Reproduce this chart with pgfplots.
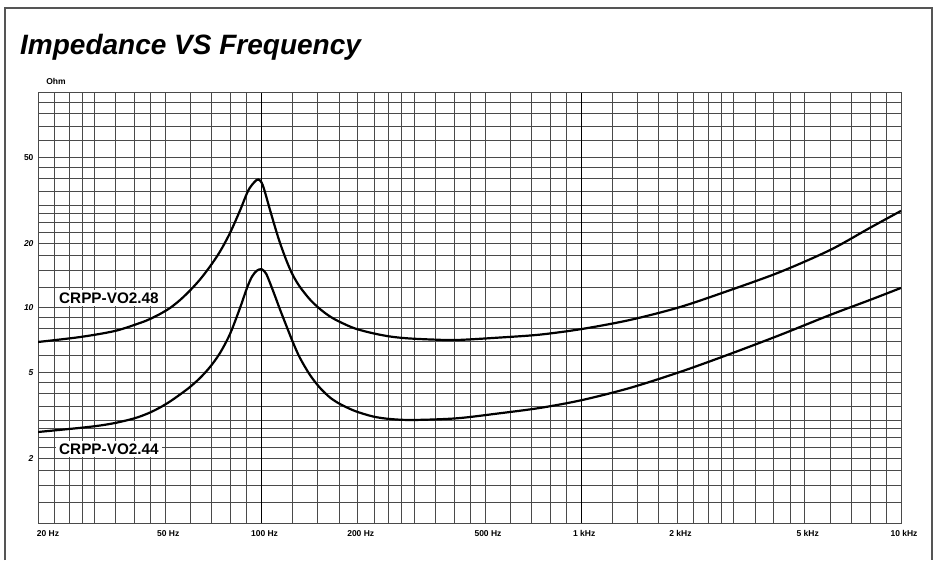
\documentclass[border=0pt]{standalone}
\usepackage{fontspec}
\setmainfont{Liberation Sans}
\usepackage{pgfplots}
\usepackage{pgfplotstable}
\pgfplotsset{compat=1.18}
\definecolor{gridc}{HTML}{4A4A4A}
\definecolor{framec}{HTML}{555555}
\pgfplotstableread{
f z
20 6.95
27.1 7.33
34.8 7.82
41.69 8.52
44.81 8.89
48.15 9.38
51.74 10.0
55.61 10.89
59.75 12.06
64.22 13.57
69.02 15.60
74.18 18.31
79.71 22.33
85.65 28.41
90.74 35.02
94.74 38.35
97.73 39.61
100.86 37.34
106.33 28.56
110.21 23.81
114.25 20.06
120.16 16.37
125.47 14.17
131.96 12.52
141.78 10.95
152.39 9.89
163.78 9.13
176.01 8.61
196.08 8.03
223.2 7.63
252.3 7.37
285.1 7.23
336.5 7.14
408.6 7.10
557.2 7.29
743 7.52
1005 7.99
1421 8.80
2036 10.1
2918 12.1
4184 14.7
5998 18.6
7998 23.6
10000 28.3
}\dataA
\pgfplotstableread{
f z
20 2.65
27.1 2.77
31.26 2.841
34.8 2.918
38.8 3.029
41.69 3.129
44.81 3.266
48.15 3.445
51.74 3.674
55.61 3.960
59.75 4.292
64.22 4.725
69.02 5.316
74.18 6.176
79.71 7.571
85.65 10.0
90.06 12.39
93.40 14.01
96.84 14.94
100.17 15.14
103.3 14.47
106.33 13.07
110.21 11.37
114.25 9.84
120.16 8.12
125.47 6.91
131.96 5.85
141.78 4.88
152.39 4.25
163.78 3.834
176.01 3.577
196.08 3.318
223.2 3.129
252.3 3.046
297.8 3.014
408.6 3.069
557 3.24
743 3.43
1005 3.73
1421 4.25
2036 5.04
2918 6.11
4184 7.49
5998 9.28
7998 10.9
10000 12.4
}\dataB
\begin{document}
\begin{tikzpicture}[x=1pt,y=1pt]
\useasboundingbox (0,0) rectangle (937,560);
\draw[line width=1.3pt, color=framec] (5,0) -- (5,552) -- (932,552) -- (932,0);
\node[anchor=base west, font=\fontsize{28}{30}\selectfont\bfseries\itshape, inner sep=0pt] at (20,505) {Impedance VS Frequency};
\begin{axis}[
  at={(38pt,37pt)}, anchor=south west,
  scale only axis, width=863pt, height=430pt,
  xmode=log, ymode=log,
  xmin=20, xmax=10000, ymin=1, ymax=100,
  xtick={20,50,100,200,500,1000,2000,5000,10000},
  xticklabels={\hspace*{14pt}20 Hz, 50 Hz, 100 Hz, 200 Hz, 500 Hz, 1 kHz, 2 kHz, 5 kHz, 10 kHz},
  ytick={2,5,10,20,50},
  yticklabels={\textit{2},\textit{5},\textit{10},\textit{20},50},
  minor xtick={22.5,25,27.5,30,35,40,45,60,70,80,90,125,150,175,225,250,275,300,350,400,450,600,700,800,900,1250,1500,1750,2250,2500,2750,3000,3500,4000,4500,6000,7000,8000,9000},
  minor ytick={1.25,1.5,1.75,2.25,2.5,2.75,3,3.5,4,4.5,6,7,8,9,10,12.5,15,17.5,22.5,25,27.5,30,35,40,45,60,70,80,90},
  grid=both,
  major grid style={gridc, line width=1pt},
  minor grid style={gridc, line width=1pt},
  major tick length=0pt, minor tick length=0pt,
  axis line style={gridc, line width=1pt},
  tick label style={font=\fontsize{8.5}{10}\selectfont\bfseries},
  xticklabel style={yshift=-4pt, xshift=3pt},
  yticklabel style={xshift=-1pt},
]
\addplot[black, line width=1.3pt] coordinates {(100,1) (100,100)};
\addplot[black, line width=1.3pt] coordinates {(1000,1) (1000,100)};
\addplot[black, line width=2.2pt, smooth, tension=0.5] table[x=f, y=z] {\dataA};
\addplot[black, line width=2.2pt, smooth, tension=0.5] table[x=f, y=z] {\dataB};
\end{axis}
\node[font=\fontsize{8.5}{10}\selectfont\bfseries, inner sep=0pt] at (56,479) {Ohm};
\node[fill=white, inner sep=3pt, anchor=west, font=\fontsize{15.3}{17}\selectfont\bfseries] at (56,262) {CRPP-VO2.48};
\node[fill=white, inner sep=3pt, anchor=west, font=\fontsize{15.3}{17}\selectfont\bfseries] at (56,111) {CRPP-VO2.44};
\end{tikzpicture}
\end{document}
